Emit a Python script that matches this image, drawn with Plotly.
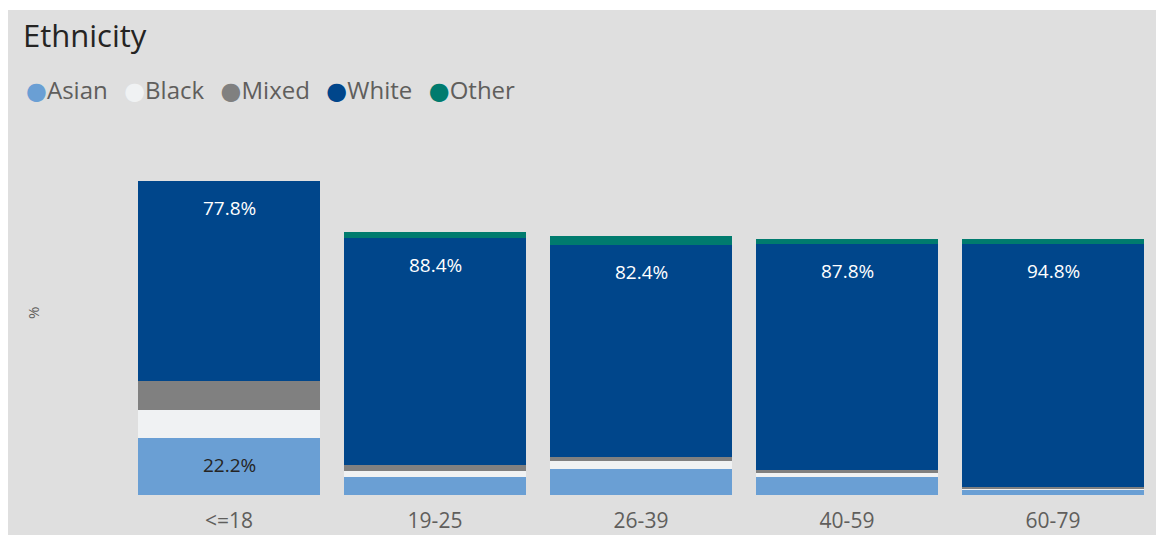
import plotly.graph_objects as go

# ---- data ----
age_groups = ["<=18", "19-25", "26-39", "40-59", "60-79"]
asian = [22.2, 6.9, 10.2, 6.9, 2.1]
black = [11.1, 2.6, 2.9, 1.7, 0.5]
mixed = [11.1, 2.2, 1.7, 1.2, 0.5]
white = [77.8, 88.4, 82.4, 87.8, 94.8]
other = [0.0, 2.5, 3.6, 2.2, 2.0]

series_names = ["Asian", "Black", "Mixed", "White", "Other"]
series_values = [asian, black, mixed, white, other]
series_colors = ["#6A9FD4", "#F0F2F3", "#808080", "#00468B", "#007B6E"]
label_colors = ["#252423", "#252423", "#252423", "#FFFFFF", "#FFFFFF"]

# ---- layout constants ----
W, H = 1156, 535
ML, MR, MT, MB = 126, 0, 150, 40
PW, PH = W - ML - MR, H - MT - MB
PX_PER_PCT = 2.567
YMAX = PH / PX_PER_PCT
PANEL_BG = "#DFDFDF"
FONT = "Segoe UI, Open Sans, sans-serif"
TEXT_GREY = "#605E5C"

fig = go.Figure()

cum = [0.0] * len(age_groups)
annotations = []
for name, vals, col, lcol in zip(series_names, series_values, series_colors, label_colors):
    fig.add_trace(go.Bar(
        x=age_groups, y=vals, name=name,
        marker=dict(color=col, line=dict(width=0)),
        showlegend=False, hoverinfo="skip",
    ))
    for i, v in enumerate(vals):
        top = cum[i] + v
        if v >= 15:
            annotations.append(dict(
                x=age_groups[i], y=top, xref="x", yref="y",
                text=f"{v:.1f}%", showarrow=False,
                yanchor="middle", yshift=-27,
                font=dict(family=FONT, size=19, color=lcol),
            ))
        cum[i] = top

# legend built as one line of text with coloured circles
legend_parts = []
for name, col in zip(series_names, series_colors):
    legend_parts.append(
        f'<span style="color:{col};font-size:24px;font-family:DejaVu Sans">●</span>'
        f'<span style="color:{TEXT_GREY}">{name}</span>'
    )
legend_text = "&nbsp;&nbsp;&#8201;".join(legend_parts)
annotations.append(dict(
    x=(24 - ML) / PW, y=(H - MB - 90) / PH, xref="paper", yref="paper",
    xanchor="left", yanchor="middle", text=legend_text, showarrow=False,
    font=dict(family=FONT, size=24, color=TEXT_GREY),
))

# y-axis title "%"
annotations.append(dict(
    x=(33 - ML) / PW, y=(H - MB - 313) / PH, xref="paper", yref="paper",
    xanchor="center", yanchor="middle",
    text="%", textangle=-90, showarrow=False,
    font=dict(family=FONT, size=15, color=TEXT_GREY),
))

# white strips (page border at top and left)
shapes = [
    dict(type="rect", xref="paper", yref="paper",
         x0=(0 - ML) / PW, x1=(W - ML) / PW,
         y0=(H - MB - 10) / PH, y1=(H - MB) / PH,
         fillcolor="white", line=dict(width=0), layer="below"),
    dict(type="rect", xref="paper", yref="paper",
         x0=(0 - ML) / PW, x1=(8 - ML) / PW,
         y0=(H - MB - H) / PH, y1=(H - MB) / PH,
         fillcolor="white", line=dict(width=0), layer="below"),
]

fig.update_layout(
    width=W, height=H,
    margin=dict(l=ML, r=MR, t=MT, b=MB, pad=0),
    paper_bgcolor=PANEL_BG, plot_bgcolor=PANEL_BG,
    barmode="stack", bargap=0.112,
    title=dict(text="Ethnicity", xref="container", yref="container",
               x=23 / W, xanchor="left", y=1 - 36 / H, yanchor="middle",
               font=dict(family=FONT, size=31, color="#252423")),
    xaxis=dict(range=[-0.5, 4.5], showgrid=False, zeroline=False, showline=False,
               ticks="", ticklabelstandoff=11, automargin=False,
               tickfont=dict(family=FONT, size=21, color=TEXT_GREY),
               fixedrange=True),
    yaxis=dict(range=[0, YMAX], showgrid=False, zeroline=False, showline=False,
               showticklabels=False, ticks="", automargin=False, fixedrange=True),
    annotations=annotations,
    shapes=shapes,
    showlegend=False,
)

fig.write_html("out.html")
